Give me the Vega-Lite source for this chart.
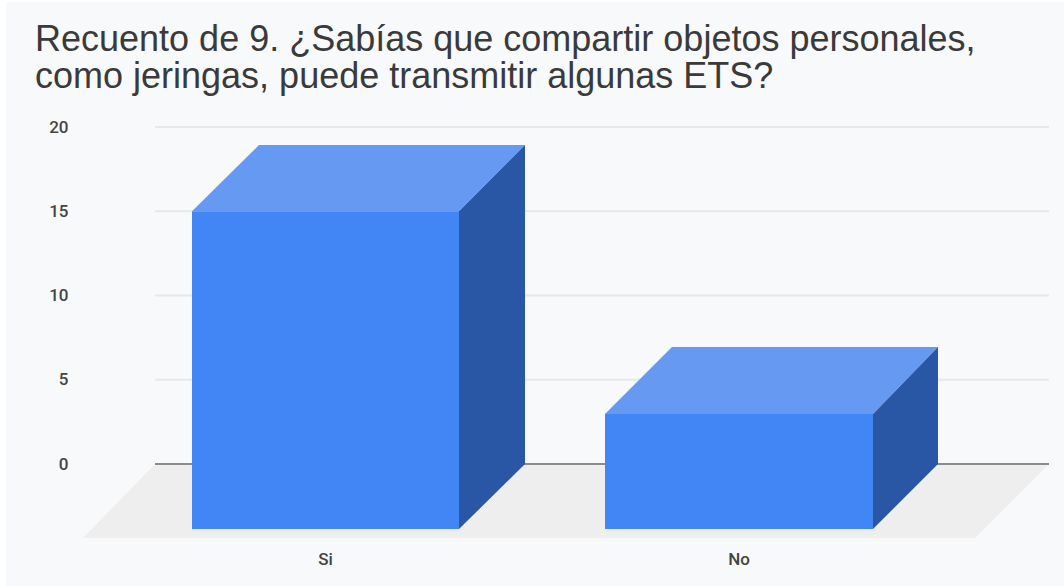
{"$schema":"https://vega.github.io/schema/vega-lite/v6.json","width":894,"height":337,"autosize":"none","padding":{"left":155,"top":127,"right":15,"bottom":122},"background":"#ffffff","config":{"view":{"stroke":null}},"title":{"text":["Recuento de 9. ¿Sabías que compartir objetos personales,","como jeringas, puede transmitir algunas ETS?"],"anchor":"start","frame":"group","dx":-120,"offset":-94,"font":"Liberation Sans","fontSize":36,"fontWeight":"normal","color":"#3a3a3a","lineHeight":37},"encoding":{"x":{"field":"x","type":"quantitative","scale":{"domain":[155,1049]},"axis":null},"y":{"field":"y","type":"quantitative","stack":null,"scale":{"domain":[0,20]},"axis":{"values":[0,5,10,15,20],"title":null,"domain":false,"ticks":false,"grid":false,"zindex":1,"labelFont":"Roboto","labelFontSize":17,"labelFontWeight":500,"labelColor":"#444444","labelPadding":87}}},"layer":[{"data":{"values":[{"forma":"fondo","x":6,"y":27.42,"y2":-7.24},{"forma":"fondo","x":1064,"y":27.42,"y2":-7.24}]},"mark":{"type":"area","color":"#f8f9fb","clip":false},"encoding":{"y2":{"field":"y2"}}},{"data":{"values":[{"y":5,"x":155,"x2":1049},{"y":10,"x":155,"x2":1049},{"y":15,"x":155,"x2":1049},{"y":20,"x":155,"x2":1049}]},"mark":{"type":"rule","color":"#e6e8ea","strokeWidth":2},"encoding":{"x2":{"field":"x2"}}},{"data":{"values":[{"forma":"suelo","x":83,"y":-4.39,"y2":-4.39},{"forma":"suelo","x":155,"y":0,"y2":-4.39},{"forma":"suelo","x":975,"y":0,"y2":-4.39},{"forma":"suelo","x":1049,"y":0,"y2":0}]},"mark":{"type":"area","color":"#eeeeee","clip":false},"encoding":{"y2":{"field":"y2"}}},{"data":{"values":[{"y":0,"x":155,"x2":1049}]},"mark":{"type":"rule","color":"#8c8c8c","strokeWidth":2},"encoding":{"x2":{"field":"x2"}}},{"data":{"values":[{"categoria":"Si","cara":"frente","x":192,"y":15,"y2":-3.86},{"categoria":"Si","cara":"frente","x":459,"y":15,"y2":-3.86},{"categoria":"Si","cara":"superior","x":192,"y":15,"y2":15},{"categoria":"Si","cara":"superior","x":259,"y":18.93,"y2":15},{"categoria":"Si","cara":"superior","x":459,"y":18.93,"y2":15},{"categoria":"Si","cara":"superior","x":525,"y":18.93,"y2":18.93},{"categoria":"Si","cara":"lateral","x":459,"y":15,"y2":-3.86},{"categoria":"Si","cara":"lateral","x":525,"y":18.93,"y2":0},{"categoria":"No","cara":"frente","x":605,"y":2.97,"y2":-3.86},{"categoria":"No","cara":"frente","x":873,"y":2.97,"y2":-3.86},{"categoria":"No","cara":"superior","x":605,"y":2.97,"y2":2.97},{"categoria":"No","cara":"superior","x":672,"y":6.94,"y2":2.97},{"categoria":"No","cara":"superior","x":873,"y":6.94,"y2":2.97},{"categoria":"No","cara":"superior","x":938,"y":6.94,"y2":6.94},{"categoria":"No","cara":"lateral","x":873,"y":2.97,"y2":-3.86},{"categoria":"No","cara":"lateral","x":938,"y":6.94,"y2":0}]},"mark":{"type":"area","clip":false},"encoding":{"y2":{"field":"y2"},"detail":{"field":"categoria"},"color":{"field":"cara","type":"nominal","legend":null,"scale":{"domain":["frente","superior","lateral"],"range":["#4285f4","#6699f2","#2a57a5"]}}}},{"data":{"values":[{"categoria":"Si","x":325.5,"y":-5.7},{"categoria":"No","x":739,"y":-5.7}]},"mark":{"type":"text","font":"Roboto","fontSize":17,"fontWeight":500,"color":"#444444","clip":false},"encoding":{"text":{"field":"categoria"}}}]}
